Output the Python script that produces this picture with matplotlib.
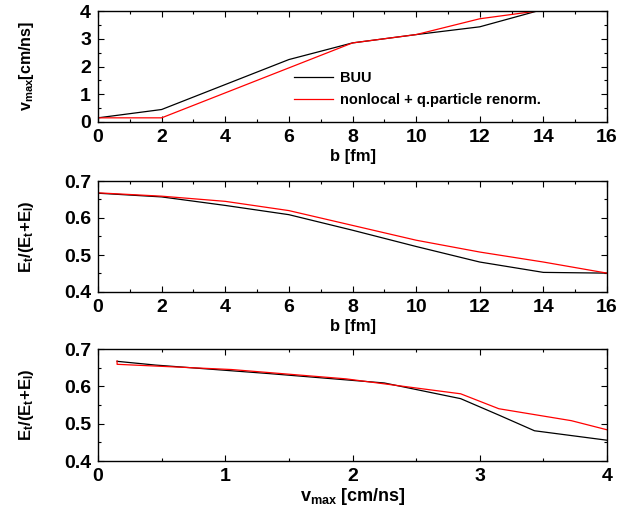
import matplotlib
matplotlib.use("Agg")
import matplotlib.pyplot as plt
from matplotlib.ticker import MultipleLocator

plt.rcParams['font.family'] = ['Liberation Sans', 'DejaVu Sans']
plt.rcParams['font.weight'] = 'bold'
plt.rcParams['mathtext.fontset'] = 'custom'
plt.rcParams['mathtext.rm'] = 'Liberation Sans:bold'
plt.rcParams['mathtext.bf'] = 'Liberation Sans:bold'
plt.rcParams['mathtext.it'] = 'Liberation Sans:bold'
plt.rcParams['mathtext.default'] = 'bf'

# impact parameter b [fm]
b = [0, 2, 4, 6, 8, 10, 12, 14, 16]
# v_max [cm/ns]
vmax_buu = [0.15, 0.45, 1.35, 2.25, 2.85, 3.15, 3.43, 4.06, None]
vmax_nl = [0.15, 0.15, 1.05, 1.95, 2.85, 3.15, 3.72, 4.03, None]
# E_t/(E_t+E_l)
ratio_buu = [0.667, 0.657, 0.634, 0.609, 0.567, 0.523, 0.481, 0.453, 0.451]
ratio_nl = [0.668, 0.659, 0.645, 0.620, 0.580, 0.540, 0.508, 0.481, 0.451]

labels = ['BUU', 'nonlocal + q.particle renorm.']
colors = ['black', 'red']

W, H = 631, 508
fig = plt.figure(figsize=(W / 100, H / 100), dpi=100)
LEFT, RIGHT = 98, 607

def mkax(top, bottom):
    return fig.add_axes([LEFT / W, 1 - bottom / H, (RIGHT - LEFT) / W, (bottom - top) / H])

ax1 = mkax(11, 122)
ax2 = mkax(181, 292)
ax3 = mkax(349, 461)

def pairs(x, y):
    xs, ys = [], []
    for a, c in zip(x, y):
        if a is not None and c is not None:
            xs.append(a); ys.append(c)
    return xs, ys

# top panel
for v, c, lab in [(vmax_buu, colors[0], labels[0]), (vmax_nl, colors[1], labels[1])]:
    xs, ys = pairs(b, v)
    ax1.plot(xs, ys, color=c, lw=0.9, label=lab)
ax1.set_xlim(0, 16); ax1.set_ylim(0, 4)
ax1.xaxis.set_major_locator(MultipleLocator(2)); ax1.xaxis.set_minor_locator(MultipleLocator(1))
ax1.yaxis.set_major_locator(MultipleLocator(1)); ax1.yaxis.set_minor_locator(MultipleLocator(0.5))
ax1.set_xlabel('b [fm]', fontsize=12, fontweight='bold', labelpad=2)
ax1.set_ylabel(r'v$_{max}$[cm/ns]', fontsize=11.5, fontweight='bold')
leg = ax1.legend(loc='upper left', bbox_to_anchor=((294 - LEFT) / (RIGHT - LEFT), 0.46),
                 frameon=False, fontsize=10.5, handlelength=2.7, handletextpad=0.45,
                 labelspacing=0.55, borderaxespad=0, borderpad=0)

# middle panel
for r, c in [(ratio_buu, colors[0]), (ratio_nl, colors[1])]:
    ax2.plot(b, r, color=c, lw=0.9)
ax2.set_xlim(0, 16); ax2.set_ylim(0.4, 0.7)
ax2.xaxis.set_major_locator(MultipleLocator(2)); ax2.xaxis.set_minor_locator(MultipleLocator(1))
ax2.yaxis.set_major_locator(MultipleLocator(0.1)); ax2.yaxis.set_minor_locator(MultipleLocator(0.05))
ax2.set_xlabel('b [fm]', fontsize=12, fontweight='bold', labelpad=2)
ax2.set_ylabel(r'E$_t$/(E$_t$+E$_l$)', fontsize=12, fontweight='bold')

# bottom panel
for v, r, c in [(vmax_buu, ratio_buu, colors[0]), (vmax_nl, ratio_nl, colors[1])]:
    xs, ys = pairs(v, r)
    ax3.plot(xs, ys, color=c, lw=0.9)
ax3.set_xlim(0, 4); ax3.set_ylim(0.4, 0.7)
ax3.xaxis.set_major_locator(MultipleLocator(1)); ax3.xaxis.set_minor_locator(MultipleLocator(0.5))
ax3.yaxis.set_major_locator(MultipleLocator(0.1)); ax3.yaxis.set_minor_locator(MultipleLocator(0.05))
ax3.set_xlabel(r'v$_{max}$ [cm/ns]', fontsize=13, fontweight='bold', labelpad=1)
ax3.set_ylabel(r'E$_t$/(E$_t$+E$_l$)', fontsize=12, fontweight='bold')

for ax in (ax1, ax2, ax3):
    ax.tick_params(which='both', direction='in', top=True, right=True, width=0.8)
    ax.tick_params(which='major', length=4, labelsize=14, pad=5)
    ax.tick_params(which='minor', length=2.5)
    for lab in ax.get_xticklabels() + ax.get_yticklabels():
        lab.set_fontweight('bold')
    for s in ax.spines.values():
        s.set_linewidth(1.0)
    ax.yaxis.set_label_coords((36 - LEFT) / (RIGHT - LEFT), 0.5)

fig.savefig('out.png', dpi=100)
